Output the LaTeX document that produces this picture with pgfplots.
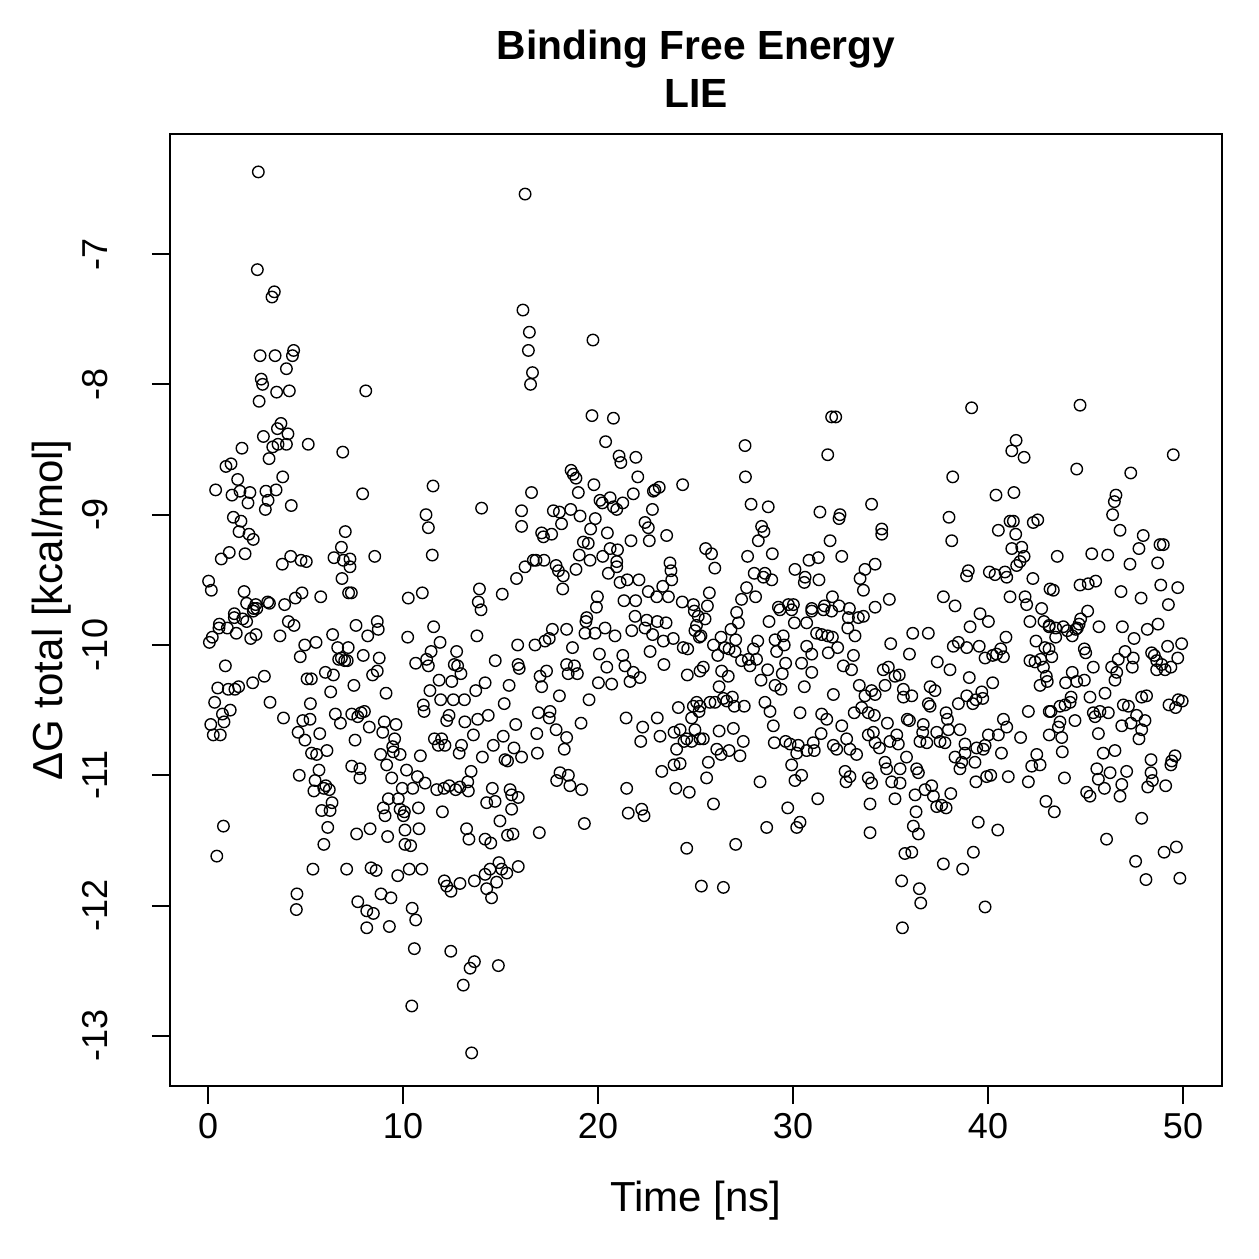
\documentclass[border=0pt]{standalone}
\usepackage{fontspec}
\setmainfont{Liberation Sans}
\usepackage{pgfplots}
\pgfplotsset{compat=1.18}
\pgfplotstableread{
x y
2.58 -6.37
2.53 -7.12
3.40 -7.29
3.28 -7.33
2.67 -7.78
3.44 -7.78
4.39 -7.74
4.33 -7.78
4.02 -7.88
2.73 -7.96
2.80 -8.00
3.52 -8.06
4.17 -8.05
2.62 -8.13
3.74 -8.30
3.56 -8.34
4.10 -8.38
2.84 -8.40
3.32 -8.48
3.59 -8.46
4.02 -8.46
5.14 -8.46
1.74 -8.49
3.13 -8.57
6.91 -8.52
0.92 -8.63
1.18 -8.61
1.52 -8.73
3.83 -8.71
0.39 -8.81
1.23 -8.85
1.64 -8.82
2.15 -8.83
2.97 -8.82
3.49 -8.81
2.05 -8.91
3.08 -8.89
2.94 -8.96
4.27 -8.93
1.30 -9.02
1.69 -9.05
1.59 -9.13
2.10 -9.15
2.32 -9.19
7.04 -9.13
6.84 -9.25
0.68 -9.34
1.09 -9.29
1.90 -9.30
3.81 -9.38
4.24 -9.32
4.77 -9.35
5.04 -9.36
6.46 -9.33
6.94 -9.35
0.03 -9.51
0.17 -9.58
1.85 -9.59
4.82 -9.60
4.48 -9.64
5.78 -9.63
6.87 -9.49
1.98 -9.68
2.45 -9.69
2.34 -9.72
3.06 -9.67
3.15 -9.68
3.93 -9.69
1.35 -9.76
7.21 -9.60
1.35 -9.79
1.78 -9.80
1.98 -9.82
2.32 -9.74
2.50 -9.72
0.58 -9.84
0.56 -9.87
0.99 -9.87
1.45 -9.91
0.22 -9.94
0.07 -9.98
2.19 -9.95
2.46 -9.92
3.69 -9.93
4.12 -9.82
4.41 -9.85
4.96 -10.00
5.54 -9.98
4.73 -10.09
6.39 -9.92
6.65 -10.02
6.70 -10.11
6.84 -10.10
7.01 -10.12
0.89 -10.16
0.50 -10.33
1.04 -10.34
1.38 -10.34
1.57 -10.32
2.29 -10.29
2.89 -10.24
0.34 -10.44
1.14 -10.50
0.74 -10.53
0.82 -10.59
0.14 -10.61
0.27 -10.69
0.63 -10.69
3.18 -10.44
3.87 -10.56
5.08 -10.26
5.30 -10.26
6.02 -10.21
6.43 -10.23
6.29 -10.36
5.25 -10.45
4.86 -10.58
5.23 -10.57
4.62 -10.67
4.97 -10.73
5.73 -10.68
6.53 -10.53
6.79 -10.60
5.31 -10.83
5.57 -10.84
6.10 -10.81
5.69 -10.96
4.68 -11.00
5.49 -11.04
5.43 -11.12
5.94 -11.10
6.04 -11.08
6.22 -11.11
6.36 -11.21
5.83 -11.27
6.26 -11.27
6.14 -11.40
5.94 -11.53
5.38 -11.72
7.11 -11.72
0.79 -11.39
0.45 -11.62
4.56 -11.91
4.53 -12.03
16.26 -6.54
16.15 -7.43
8.09 -8.05
7.93 -8.84
11.54 -8.78
11.18 -9.00
11.30 -9.10
11.50 -9.31
14.03 -8.95
16.08 -8.97
16.08 -9.09
7.28 -9.34
7.28 -9.40
8.55 -9.32
7.35 -9.60
10.27 -9.64
10.99 -9.60
13.92 -9.57
13.86 -9.67
14.00 -9.73
15.09 -9.61
15.82 -9.49
16.26 -9.40
8.68 -9.82
7.59 -9.85
8.73 -9.88
8.19 -9.93
10.24 -9.94
11.57 -9.86
13.79 -9.93
15.88 -10.00
7.19 -10.02
7.14 -10.12
7.96 -10.08
8.78 -10.10
8.68 -10.20
8.44 -10.23
7.48 -10.31
9.13 -10.37
11.90 -9.98
11.44 -10.05
11.21 -10.11
10.65 -10.14
11.30 -10.16
12.75 -10.05
12.63 -10.15
12.80 -10.16
12.97 -10.22
14.73 -10.12
15.90 -10.15
15.96 -10.18
11.85 -10.27
12.50 -10.28
11.38 -10.35
11.93 -10.42
12.58 -10.42
13.15 -10.42
13.73 -10.35
14.21 -10.29
15.44 -10.31
15.19 -10.45
11.04 -10.46
11.08 -10.51
7.37 -10.53
7.85 -10.52
8.02 -10.51
7.68 -10.55
9.04 -10.59
9.64 -10.61
8.27 -10.63
8.96 -10.67
7.54 -10.73
9.57 -10.72
9.47 -10.78
8.85 -10.84
9.85 -10.84
9.50 -10.82
9.16 -10.92
12.36 -10.54
12.24 -10.58
13.17 -10.59
13.83 -10.57
14.37 -10.54
15.78 -10.61
13.61 -10.69
15.14 -10.70
14.63 -10.77
15.69 -10.79
16.08 -10.86
11.61 -10.72
11.98 -10.72
11.81 -10.77
12.15 -10.77
13.00 -10.77
12.88 -10.83
14.07 -10.86
10.89 -10.85
15.23 -10.88
15.36 -10.89
7.37 -10.93
7.79 -10.95
7.79 -11.02
9.42 -11.02
10.18 -10.96
10.74 -11.01
11.13 -11.06
10.50 -11.10
9.96 -11.10
11.73 -11.11
12.10 -11.10
12.37 -11.08
12.70 -11.11
12.92 -11.09
13.35 -11.12
13.32 -11.05
13.49 -10.97
14.58 -11.10
15.49 -11.11
15.57 -11.15
15.91 -11.17
14.29 -11.21
14.72 -11.20
15.57 -11.26
14.97 -11.35
9.25 -11.18
8.99 -11.25
9.08 -11.31
9.76 -11.18
9.85 -11.26
10.02 -11.31
10.07 -11.28
10.79 -11.25
12.02 -11.28
7.62 -11.45
8.31 -11.41
9.21 -11.47
10.10 -11.42
10.10 -11.53
10.39 -11.54
10.82 -11.41
13.26 -11.41
13.38 -11.49
14.21 -11.49
14.50 -11.52
15.36 -11.46
15.64 -11.45
8.36 -11.71
8.62 -11.73
9.73 -11.77
10.32 -11.72
10.96 -11.72
15.91 -11.70
12.12 -11.81
12.24 -11.85
12.46 -11.89
12.92 -11.83
13.66 -11.81
14.21 -11.76
14.46 -11.72
14.92 -11.67
15.06 -11.72
14.80 -11.82
14.29 -11.87
14.54 -11.94
15.32 -11.75
8.87 -11.91
9.38 -11.94
7.68 -11.97
8.14 -12.04
8.48 -12.06
8.14 -12.17
9.30 -12.16
10.47 -12.02
10.65 -12.11
10.58 -12.33
12.45 -12.35
13.66 -12.43
13.44 -12.48
14.89 -12.46
13.09 -12.61
10.45 -12.77
13.52 -13.13
16.48 -7.60
16.43 -7.74
16.64 -7.91
16.54 -8.00
19.74 -7.66
19.69 -8.24
20.79 -8.26
20.39 -8.44
21.08 -8.55
21.17 -8.60
21.94 -8.56
18.62 -8.66
18.73 -8.69
18.87 -8.72
19.79 -8.77
18.99 -8.83
16.59 -8.83
20.10 -8.89
20.22 -8.91
20.62 -8.87
20.79 -8.94
20.96 -8.96
21.27 -8.91
21.81 -8.84
22.04 -8.71
22.84 -8.82
22.92 -8.81
23.14 -8.79
24.34 -8.77
22.79 -8.96
17.71 -8.97
18.02 -8.98
18.60 -8.96
19.08 -9.01
18.13 -9.07
17.11 -9.14
17.20 -9.17
17.62 -9.15
16.68 -9.35
16.82 -9.35
17.23 -9.35
17.85 -9.39
17.97 -9.43
18.22 -9.47
18.19 -9.57
18.87 -9.42
19.86 -9.03
19.62 -9.11
20.48 -9.14
19.25 -9.21
19.50 -9.22
19.04 -9.31
20.24 -9.32
20.62 -9.26
21.00 -9.27
19.59 -9.35
20.96 -9.36
20.53 -9.45
20.96 -9.40
21.13 -9.52
21.50 -9.50
22.10 -9.50
21.69 -9.20
22.41 -9.06
22.58 -9.10
22.63 -9.20
23.52 -9.16
23.69 -9.37
23.74 -9.43
23.78 -9.50
23.32 -9.55
22.58 -9.59
23.01 -9.63
23.61 -9.63
24.32 -9.67
24.89 -9.69
19.97 -9.63
19.92 -9.71
21.33 -9.66
21.93 -9.66
19.42 -9.79
19.38 -9.82
19.33 -9.91
19.85 -9.91
20.36 -9.87
20.87 -9.93
18.39 -9.88
17.66 -9.88
17.50 -9.95
17.28 -9.97
16.77 -10.00
18.69 -10.02
21.90 -9.78
22.50 -9.81
22.41 -9.87
23.04 -9.82
23.49 -9.83
22.80 -9.92
23.35 -9.97
23.86 -9.95
21.73 -9.89
24.37 -10.02
24.60 -10.03
24.94 -9.74
24.97 -9.89
25.20 -9.94
20.07 -10.07
20.45 -10.17
21.27 -10.08
21.38 -10.16
21.81 -10.21
22.15 -10.25
21.64 -10.28
20.02 -10.29
20.70 -10.30
22.67 -10.05
23.38 -10.15
24.58 -10.23
18.39 -10.15
18.79 -10.16
18.94 -10.22
18.47 -10.22
17.36 -10.20
17.03 -10.24
17.11 -10.32
18.02 -10.39
19.54 -10.42
16.94 -10.52
17.54 -10.51
17.50 -10.56
17.85 -10.65
18.39 -10.71
18.27 -10.80
16.86 -10.68
16.89 -10.83
19.13 -10.60
21.44 -10.56
22.29 -10.63
22.19 -10.74
23.04 -10.56
23.18 -10.70
23.90 -10.67
24.12 -10.48
24.21 -10.65
24.55 -10.72
24.03 -10.80
24.41 -10.74
24.80 -10.56
24.89 -10.47
25.06 -10.44
24.97 -10.65
24.80 -10.74
25.23 -10.72
23.27 -10.97
23.90 -10.92
24.21 -10.91
18.05 -10.98
17.88 -11.04
18.48 -11.00
18.56 -11.08
19.16 -11.11
21.47 -11.10
23.99 -11.10
24.68 -11.13
21.55 -11.29
22.24 -11.26
22.36 -11.31
19.30 -11.37
16.99 -11.44
24.55 -11.56
31.98 -8.25
32.19 -8.25
27.54 -8.47
31.78 -8.54
27.56 -8.71
27.85 -8.92
28.73 -8.94
31.38 -8.98
32.41 -9.00
32.36 -9.03
34.03 -8.92
28.39 -9.09
28.51 -9.13
28.22 -9.20
31.90 -9.20
25.52 -9.26
25.82 -9.30
25.99 -9.41
27.67 -9.32
28.94 -9.30
28.01 -9.45
28.56 -9.45
28.48 -9.48
28.91 -9.50
30.10 -9.42
30.82 -9.35
31.30 -9.33
32.50 -9.32
30.62 -9.48
30.58 -9.52
31.33 -9.50
33.69 -9.42
33.44 -9.49
33.61 -9.58
34.21 -9.38
25.71 -9.60
25.61 -9.70
27.62 -9.56
27.36 -9.65
28.08 -9.63
27.11 -9.75
29.25 -9.71
29.76 -9.69
30.02 -9.69
30.96 -9.72
31.61 -9.70
32.02 -9.63
32.36 -9.70
32.89 -9.72
34.21 -9.71
25.49 -9.80
25.14 -9.78
27.20 -9.83
26.82 -9.88
26.31 -9.94
25.92 -10.00
26.14 -10.08
26.51 -10.02
26.72 -10.03
27.06 -9.96
27.03 -10.05
27.36 -10.12
27.71 -10.11
27.79 -10.16
27.97 -10.03
28.19 -9.97
28.13 -10.11
28.70 -10.19
28.36 -10.27
28.77 -9.82
29.08 -9.96
29.16 -10.05
29.50 -9.93
29.55 -10.00
29.62 -10.14
29.45 -10.22
29.08 -10.31
29.38 -10.34
29.33 -9.73
29.93 -9.73
30.07 -9.83
30.70 -9.83
30.96 -9.74
31.21 -9.91
31.56 -9.73
31.47 -9.92
31.78 -9.93
32.02 -9.94
32.29 -10.02
31.81 -10.06
30.70 -10.01
30.96 -10.07
30.44 -10.14
30.96 -10.21
30.58 -10.32
31.98 -9.74
32.84 -9.79
32.81 -9.87
33.18 -9.93
33.35 -9.79
33.61 -9.78
33.10 -10.08
32.58 -10.16
33.00 -10.19
33.40 -10.31
32.07 -10.38
33.69 -10.39
34.03 -10.35
34.21 -10.38
33.14 -10.52
33.52 -10.48
33.86 -10.52
34.17 -10.54
25.05 -9.85
25.28 -9.93
25.23 -10.20
25.40 -10.17
26.34 -10.20
26.68 -10.24
26.21 -10.32
25.23 -10.47
25.18 -10.51
25.74 -10.44
26.00 -10.44
26.43 -10.41
26.60 -10.43
26.89 -10.40
26.99 -10.47
27.50 -10.47
28.56 -10.44
28.82 -10.51
28.99 -10.62
30.36 -10.52
31.47 -10.53
31.73 -10.57
32.50 -10.62
31.44 -10.68
25.40 -10.72
26.21 -10.66
26.94 -10.64
27.45 -10.74
26.09 -10.80
26.31 -10.84
26.72 -10.81
27.28 -10.85
25.66 -10.90
25.57 -11.02
29.04 -10.75
29.62 -10.74
29.85 -10.76
30.27 -10.77
30.19 -10.83
30.70 -10.81
31.04 -10.75
31.09 -10.81
32.07 -10.77
32.24 -10.80
32.75 -10.72
32.92 -10.80
33.26 -10.84
33.86 -10.69
34.21 -10.75
29.93 -10.92
30.44 -11.00
30.10 -11.04
28.31 -11.05
32.67 -10.97
32.92 -11.01
32.72 -11.05
33.86 -11.02
34.03 -11.06
31.27 -11.18
29.73 -11.25
30.36 -11.36
30.19 -11.40
28.65 -11.40
27.06 -11.53
25.92 -11.22
25.30 -11.85
26.43 -11.86
33.95 -11.22
33.95 -11.44
39.16 -8.18
41.44 -8.43
41.22 -8.51
41.85 -8.56
38.19 -8.71
40.41 -8.85
41.33 -8.83
38.00 -9.02
38.14 -9.20
34.55 -9.11
34.55 -9.15
41.13 -9.05
41.30 -9.05
42.32 -9.06
42.55 -9.04
40.53 -9.12
41.42 -9.15
41.22 -9.26
41.73 -9.25
41.85 -9.32
41.64 -9.36
41.47 -9.39
42.30 -9.49
43.18 -9.57
34.94 -9.65
38.99 -9.43
38.90 -9.47
40.07 -9.44
40.36 -9.46
40.87 -9.44
40.96 -9.48
37.71 -9.63
38.31 -9.70
41.13 -9.63
41.90 -9.63
41.98 -9.69
42.75 -9.72
39.59 -9.76
39.08 -9.86
40.02 -9.82
36.14 -9.91
36.94 -9.91
35.01 -9.99
35.97 -10.07
38.22 -10.01
38.48 -9.98
38.91 -10.02
39.55 -10.01
39.85 -10.10
40.24 -10.08
40.44 -10.07
40.65 -10.03
40.79 -10.09
40.92 -9.94
42.15 -9.82
42.87 -9.82
43.14 -9.85
42.46 -9.97
42.15 -10.12
42.41 -10.13
42.70 -10.11
42.92 -10.02
42.84 -10.17
42.67 -10.31
37.40 -10.13
38.05 -10.19
39.04 -10.25
40.24 -10.29
34.63 -10.19
34.89 -10.17
35.23 -10.24
35.45 -10.23
34.72 -10.31
35.66 -10.34
35.66 -10.40
36.09 -10.39
37.03 -10.32
37.28 -10.35
36.94 -10.45
37.03 -10.47
37.85 -10.52
37.92 -10.57
38.48 -10.45
38.91 -10.39
39.22 -10.45
39.38 -10.42
39.68 -10.36
39.73 -10.41
34.84 -10.60
35.86 -10.57
35.97 -10.58
36.68 -10.61
36.65 -10.67
34.12 -10.67
34.43 -10.79
34.97 -10.74
35.32 -10.69
35.40 -10.76
36.51 -10.74
36.86 -10.75
37.37 -10.67
37.54 -10.74
37.79 -10.75
37.97 -10.65
38.56 -10.65
40.79 -10.57
40.96 -10.63
40.02 -10.69
40.53 -10.69
42.07 -10.51
43.14 -10.51
43.14 -10.69
41.67 -10.71
40.69 -10.83
38.82 -10.76
38.82 -10.83
39.42 -10.79
39.85 -10.77
39.76 -10.80
38.31 -10.86
38.65 -10.90
38.56 -10.95
39.33 -10.90
39.38 -11.05
39.93 -11.01
40.14 -11.00
41.04 -11.01
42.07 -11.05
42.50 -10.84
42.24 -10.93
42.67 -10.92
34.72 -10.90
34.80 -10.95
35.82 -10.86
35.49 -10.95
36.34 -10.95
36.43 -10.98
35.06 -11.05
35.49 -11.06
35.23 -11.18
36.26 -11.15
36.77 -11.11
37.11 -11.08
37.20 -11.16
37.37 -11.24
37.62 -11.23
37.85 -11.25
38.09 -11.14
36.31 -11.28
36.17 -11.39
36.43 -11.45
39.50 -11.36
40.50 -11.42
39.25 -11.59
35.74 -11.60
36.09 -11.59
37.71 -11.68
38.70 -11.72
35.57 -11.81
36.48 -11.87
36.55 -11.98
39.85 -12.01
35.61 -12.17
42.97 -11.20
44.72 -8.16
49.50 -8.54
44.55 -8.65
47.32 -8.68
46.56 -8.85
46.48 -8.90
46.39 -9.00
46.77 -9.12
47.96 -9.16
47.74 -9.26
48.82 -9.23
48.99 -9.23
43.55 -9.32
45.32 -9.30
46.14 -9.31
47.28 -9.38
48.70 -9.37
43.35 -9.58
44.72 -9.54
45.14 -9.53
45.52 -9.51
46.82 -9.59
47.85 -9.64
48.86 -9.54
49.73 -9.56
49.25 -9.69
45.11 -9.74
43.13 -9.86
43.47 -9.87
43.47 -9.94
43.86 -9.86
44.07 -9.89
44.32 -9.93
44.50 -9.88
44.67 -9.84
44.75 -9.80
44.58 -9.87
45.69 -9.86
46.89 -9.86
47.49 -9.95
48.17 -9.88
48.72 -9.84
43.13 -10.03
43.27 -10.09
42.99 -10.24
43.04 -10.28
43.98 -10.29
44.32 -10.21
44.55 -10.28
44.94 -10.27
44.94 -10.03
45.01 -10.06
45.40 -10.17
46.34 -10.17
46.60 -10.21
46.51 -10.27
46.68 -10.11
47.03 -10.05
47.45 -10.10
47.40 -10.17
48.39 -10.06
48.53 -10.08
48.65 -10.12
48.65 -10.19
48.91 -10.15
49.08 -10.19
49.21 -10.01
49.38 -10.17
49.73 -10.10
49.93 -9.99
43.23 -10.51
43.69 -10.47
43.95 -10.46
44.26 -10.40
44.21 -10.44
44.46 -10.58
43.69 -10.59
43.61 -10.63
43.78 -10.71
43.81 -10.82
43.92 -11.02
43.40 -11.28
45.23 -10.40
45.40 -10.52
45.49 -10.55
45.74 -10.51
46.00 -10.37
46.17 -10.52
46.94 -10.46
47.20 -10.47
46.86 -10.62
47.33 -10.60
47.62 -10.54
48.05 -10.58
47.88 -10.65
47.74 -10.72
47.88 -10.40
48.13 -10.39
49.28 -10.46
49.62 -10.48
49.76 -10.42
49.96 -10.43
45.66 -10.68
45.91 -10.83
46.51 -10.81
45.58 -10.95
45.66 -11.03
45.97 -11.10
46.26 -10.98
47.11 -10.97
46.86 -11.07
46.77 -11.16
45.06 -11.13
45.23 -11.16
48.36 -10.88
48.36 -10.98
48.19 -11.09
48.43 -11.04
49.11 -11.08
49.42 -10.89
49.59 -10.85
49.38 -10.92
47.88 -11.33
46.08 -11.49
47.57 -11.66
49.03 -11.59
49.66 -11.55
48.10 -11.80
49.84 -11.79
}\lie
\begin{document}
\begin{tikzpicture}[x=1pt,y=1pt]
\useasboundingbox (-68,-69.2) rectangle (435.6,434.4);
\begin{axis}[
  at={(0,0)}, anchor=south west,
  scale only axis, width=420.8pt, height=380.8pt,
  xmin=-1.95, xmax=52.0, ymin=-13.384, ymax=-6.079,
  axis line style={line width=1pt, black},
  tick align=outside, major tick length=7.2pt,
  tick style={line width=0.75pt, black},
  xtick pos=left, ytick pos=left,
  xtick={0,10,20,30,40,50}, xticklabels={0,10,20,30,40,50},
  ytick={-13,-12,-11,-10,-9,-8,-7}, yticklabels={-13,-12,-11,-10,-9,-8,-7},
  ticklabel style={font=\fontsize{14.4}{16}\selectfont, inner sep=0pt},
  xticklabel style={anchor=base, yshift=-13.6pt},
  yticklabel style={anchor=base, rotate=90},
  yticklabel shift=17.6pt,
  clip=false,
]
\addplot[only marks, mark=o, mark size=2.3pt, black, mark options={line width=0.55pt}] table[x=x, y=y] {\lie};
\end{axis}
\node[anchor=base, font=\fontsize{16.3}{18}\selectfont\bfseries] at (210.4,410.4) {Binding Free Energy};
\node[anchor=base, font=\fontsize{16.3}{18}\selectfont\bfseries] at (210.4,391.2) {LIE};
\node[anchor=base, font=\fontsize{16.8}{19}\selectfont] at (210.4,-50) {Time [ns]};
\node[anchor=base, rotate=90, font=\fontsize{16.8}{19}\selectfont] at (-42.8,190.4) {ΔG total [kcal/mol]};
\end{tikzpicture}
\end{document}
